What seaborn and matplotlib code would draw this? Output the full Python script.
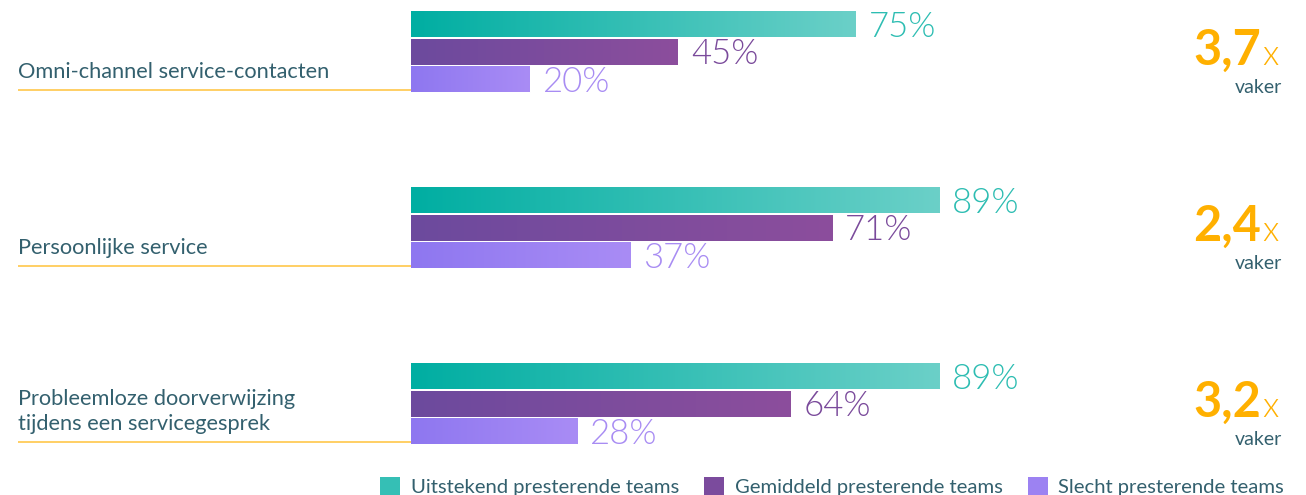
import numpy as np
import pandas as pd
import matplotlib
matplotlib.use("Agg")
import matplotlib.pyplot as plt
import seaborn as sns
from matplotlib.colors import LinearSegmentedColormap
from matplotlib.patches import Patch

# ---------------- data ----------------
categories = ["Omni-channel service-contacten",
              "Persoonlijke service",
              "Probleemloze doorverwijzing\ntijdens een servicegesprek"]
teams = ["Uitstekend presterende teams",
         "Gemiddeld presterende teams",
         "Slecht presterende teams"]
excellent = [75, 89, 89]
average = [45, 71, 64]
poor = [20, 37, 28]
multipliers = ["3,7", "2,4", "3,2"]

df = pd.DataFrame({
    "category": categories * 3,
    "team": np.repeat(teams, len(categories)),
    "value": excellent + average + poor,
})

# ---------------- style ----------------
sns.set_theme(style="white")
plt.rcParams['font.family'] = ['Lato', 'DejaVu Sans']

grad_colors = [("#00AEA2", "#6BD0C8"), ("#6C4A9E", "#8C4E9C"), ("#8E77F0", "#A98CF5")]
mid_colors = ["#35BFB5", "#7B4B9D", "#9C82F2"]
text_colors = ["#2DBDB2", "#7A4A9B", "#A88CF3"]
label_color = "#33606E"
orange = "#FFB000"
line_orange = "#FFC23A"

fig = plt.figure(figsize=(13.06, 4.95), dpi=100)
ax = fig.add_axes([0, 0, 1, 1])

PX = 5.933   # pixels per percent
X0 = 411.0   # pixel where the bars start
GROUP = 176.0
C0 = 52.0


def xd(px):
    return (px - X0) / PX


sns.barplot(data=df, y="category", x="value", hue="team", order=categories,
            hue_order=teams, palette=mid_colors, orient="y", width=0.47, gap=0.09,
            dodge=True, errorbar=None, legend=False, ax=ax)

xlim = (xd(0), xd(1306))
ylim = ((495 - C0) / GROUP, -C0 / GROUP)

grad = np.linspace(0, 1, 256)[None, :]
for i, cont in enumerate(ax.containers):
    cmap = LinearSegmentedColormap.from_list(f"g{i}", list(grad_colors[i]))
    for bar in cont:
        x0, y0 = bar.get_x(), bar.get_y()
        w, h = bar.get_width(), bar.get_height()
        ax.imshow(grad, cmap=cmap, extent=[x0, x0 + w, y0 + h, y0], aspect="auto",
                  zorder=bar.get_zorder() + 0.1, interpolation="bilinear")
        ax.text(x0 + w + 13 / PX, y0 + h / 2 + 2.5 / GROUP, f"{w:.0f}%",
                ha="left", va="center", fontsize=25, fontweight=300,
                color=text_colors[i])

for i, cat in enumerate(categories):
    ax.text(xd(18), i + 30 / GROUP, cat, ha="left", va="bottom", fontsize=15.7,
            color=label_color, linespacing=1.3)
    ax.plot([xd(18), xd(411)], [i + 38.5 / GROUP] * 2, color=line_orange, lw=1.1,
            solid_capstyle="butt")
    ax.text(xd(1261), i + 13 / GROUP, multipliers[i], ha="right", va="baseline",
            fontsize=35, fontweight="bold", color=orange)
    ax.text(xd(1262), i + 13 / GROUP, "x", ha="left", va="baseline",
            fontsize=25, fontweight=300, color=orange)
    ax.text(xd(1282), i + 41 / GROUP, "vaker", ha="right", va="baseline",
            fontsize=14, color=label_color)

ax.set_xlim(*xlim)
ax.set_ylim(*ylim)
ax.axis("off")

handles = [Patch(facecolor=c, edgecolor="none") for c in mid_colors]
ax.legend(handles, teams, loc="lower right", bbox_to_anchor=(1284 / 1306, -0.002),
          bbox_transform=fig.transFigure, ncol=3, frameon=False, fontsize=14.6,
          handlelength=1.0, handleheight=1.0, handletextpad=0.5, columnspacing=1.25,
          borderpad=0, borderaxespad=0, labelcolor=label_color)

fig.savefig("out.png", dpi=100)
